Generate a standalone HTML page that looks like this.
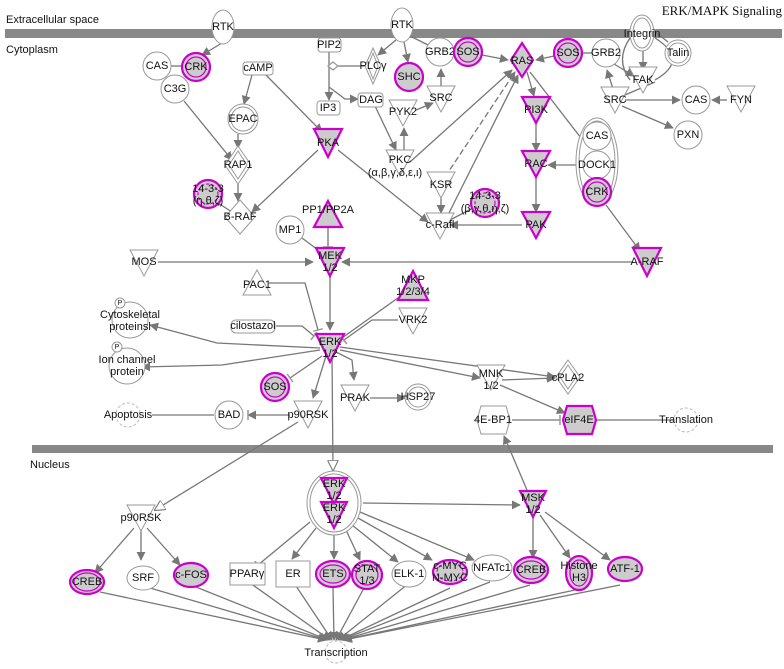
<!DOCTYPE html>
<html><head><meta charset="utf-8"><style>
html,body{margin:0;padding:0;background:#fff;}
svg{display:block;font-family:"Liberation Sans",Arial,sans-serif;font-size:11px;}
text{fill:#111;text-anchor:middle;dominant-baseline:middle;}
.e{stroke:#777;stroke-width:1.3;fill:none;}
.n{fill:#fff;stroke:#999;stroke-width:1;}
.m{fill:#ccc;stroke:#c0c;stroke-width:2.2;}
.mi{fill:none;stroke:#c0c;stroke-width:1.2;}
</style></head><body>
<svg width="784" height="669" viewBox="0 0 784 669">
<defs>
<marker id="a" viewBox="0 0 10 10" refX="9" refY="5" markerWidth="9" markerHeight="9" markerUnits="userSpaceOnUse" orient="auto"><path d="M0,0L10,5L0,10z" fill="#777"/></marker>
<marker id="o" viewBox="0 0 10 10" refX="9" refY="5" markerWidth="11" markerHeight="11" markerUnits="userSpaceOnUse" orient="auto"><path d="M0,0L10,5L0,10z" fill="#fff" stroke="#777"/></marker>
<marker id="t" viewBox="0 0 4 10" refX="2" refY="5" markerWidth="4" markerHeight="10" markerUnits="userSpaceOnUse" orient="auto"><path d="M2,0L2,10" stroke="#999" stroke-width="1.5"/></marker>
</defs>
<!-- membranes -->
<rect x="5" y="29" width="777" height="9" fill="#888"/>
<rect x="32" y="445" width="741" height="8" fill="#888"/>
<text x="6" y="20" style="text-anchor:start">Extracellular space</text>
<text x="6" y="50" style="text-anchor:start">Cytoplasm</text>
<text x="30" y="465" style="text-anchor:start">Nucleus</text>
<text x="782" y="12" style="text-anchor:end;font-family:'Liberation Serif',serif;font-size:13px">ERK/MAPK Signaling</text>

<!-- edges top -->
<g class="e">
<path d="M222,43L202,55" marker-end="url(#a)"/>
<path d="M171,66L182,66"/>
<path d="M184,101L232,160" marker-end="url(#a)"/>
<path d="M252,75L244,104" marker-end="url(#a)"/>
<path d="M266,75L322,132" marker-end="url(#a)"/>
<path d="M238,134L238,148" marker-end="url(#a)"/>
<path d="M238,184L238,201" marker-end="url(#a)"/>
<path d="M218,203L232,212"/>
<path d="M318,150L252,212" marker-end="url(#a)"/>
<path d="M338,150L428,222" marker-end="url(#a)"/>
<path d="M329,52L329,100" marker-end="url(#a)"/>
<path d="M329,87L345,99L358,99" marker-end="url(#a)"/>
<path d="M338,66L366,66"/>
<path d="M333,62L338,66L333,70L328,66z" fill="#fff" stroke="#999"/>
<path d="M396,40L378,55" marker-end="url(#a)"/>
<path d="M375,106L396,150" marker-end="url(#a)"/>
<path d="M404,150L404,128" marker-end="url(#a)"/>
<path d="M416,110L433,103" marker-end="url(#a)"/>
<path d="M441,90L441,69" marker-end="url(#a)"/>
<path d="M404,42L408,62" marker-end="url(#a)"/>
<path d="M410,36L430,46"/>
<path d="M454,52L456,52"/>
<path d="M482,55L508,60" marker-end="url(#a)"/>
<path d="M410,162L512,70" marker-end="url(#a)"/>
<path d="M445,177L515,72" stroke-dasharray="6,3" marker-end="url(#a)"/>
<path d="M448,215L518,75" marker-end="url(#a)"/>
<path d="M527,72L534,96" marker-end="url(#a)"/>
<path d="M530,72L598,160"/>
<path d="M536,124L536,151" marker-end="url(#a)"/>
<path d="M536,176L536,212" marker-end="url(#a)"/>
<path d="M582,165L548,165" marker-end="url(#a)"/>
<path d="M522,225L450,225" marker-end="url(#a)"/>
<path d="M473,208L450,220"/>
<path d="M441,198L441,213" marker-end="url(#a)"/>
<path d="M554,56L536,60" marker-end="url(#a)"/>
<path d="M582,53L592,53"/>
<path d="M614,64L634,76" marker-end="url(#a)"/>
<path d="M643,50L643,70" marker-end="url(#a)"/>
<path d="M630,38Q615,60 630,80M655,38Q690,60 655,80"/>
<path d="M653,30L668,42"/>
<path d="M614,92L607,70" marker-end="url(#a)"/>
<path d="M625,100L680,100" marker-end="url(#a)"/>
<path d="M727,100L712,100" marker-end="url(#a)"/>
<path d="M622,106L673,128" marker-end="url(#a)"/>
<path d="M625,95L655,82"/>
<path d="M606,205L640,251" marker-end="url(#a)"/>
<!-- MEK -->
<path d="M158,262L313,262" marker-end="url(#a)"/>
<path d="M632,262L342,262" marker-end="url(#a)"/>
<path d="M328,220L328,247" marker-end="url(#t)"/>
<path d="M302,238L318,250"/>
<path d="M330,275L330,330" marker-end="url(#a)"/>
<path d="M269,283L305,283L318,330" marker-end="url(#t)"/>
<path d="M276,326L302,326L314,336" marker-end="url(#t)"/>
<path d="M402,295L342,338" marker-end="url(#t)"/>
<path d="M398,320L372,320L344,340" marker-end="url(#t)"/>
<path d="M320,348L217,343L150,325" marker-end="url(#a)"/>
<path d="M320,350L222,365L142,367" marker-end="url(#a)"/>
<path d="M322,356L290,378" marker-end="url(#t)"/>
<path d="M326,356L313,398" marker-end="url(#a)"/>
<path d="M336,352L352,360L354,380" marker-end="url(#a)"/>
<path d="M370,398L405,398" marker-end="url(#a)"/>
<path d="M340,350L480,378" marker-end="url(#a)"/>
<path d="M340,347L555,377" marker-end="url(#a)"/>
<path d="M502,380L555,378" marker-end="url(#a)"/>
<path d="M500,385L565,413" marker-end="url(#a)"/>
<path d="M512,420L560,420" marker-end="url(#t)"/>
<path d="M596,420L675,420"/>
<path d="M290,415L248,415" marker-end="url(#a)"/>
<path d="M254,415L248,415" marker-end="url(#t)"/>
<path d="M214,415L152,415"/>
<path d="M332,356L333,470" marker-end="url(#o)"/>
<path d="M298,422L155,510" marker-end="url(#o)"/>
<path d="M527,490L504,436" marker-end="url(#a)"/>
<path d="M363,503L520,505" marker-end="url(#a)"/>
<!-- nucleus to targets -->
<path d="M134,528L95,573" marker-end="url(#a)"/>
<path d="M141,528L141,560" marker-end="url(#a)"/>
<path d="M147,528L180,565" marker-end="url(#a)"/>
<path d="M310,522L258,565" marker-end="url(#t)"/>
<path d="M316,528L292,559" marker-end="url(#a)"/>
<path d="M334,535L334,559" marker-end="url(#a)"/>
<path d="M346,530L360,560" marker-end="url(#a)"/>
<path d="M352,525L398,562" marker-end="url(#a)"/>
<path d="M358,518L432,560" marker-end="url(#a)"/>
<path d="M360,512L474,560" marker-end="url(#a)"/>
<path d="M533,518L533,558" marker-end="url(#a)"/>
<path d="M540,515L570,558" marker-end="url(#a)"/>
<path d="M545,512L610,560" marker-end="url(#a)"/>
<!-- to transcription -->
<path d="M100,592L326,640" marker-end="url(#a)"/>
<path d="M150,588L327,640" marker-end="url(#a)"/>
<path d="M196,587L328,640" marker-end="url(#a)"/>
<path d="M250,583L330,640" marker-end="url(#a)"/>
<path d="M294,583L332,640" marker-end="url(#a)"/>
<path d="M333,588L334,640" marker-end="url(#a)"/>
<path d="M364,588L336,640" marker-end="url(#a)"/>
<path d="M408,584L338,640" marker-end="url(#a)"/>
<path d="M450,588L340,640" marker-end="url(#a)"/>
<path d="M490,582L341,640" marker-end="url(#a)"/>
<path d="M530,585L342,640" marker-end="url(#a)"/>
<path d="M575,590L343,640" marker-end="url(#a)"/>
<path d="M620,585L344,640" marker-end="url(#a)"/>
</g>

<!-- nodes top -->
<ellipse class="n" cx="223" cy="27" rx="11" ry="17"/><text x="223" y="27">RTK</text>
<ellipse class="n" cx="402" cy="25" rx="11" ry="17"/><text x="402" y="25">RTK</text>
<circle class="n" cx="157" cy="66" r="14"/><text x="157" y="66">CAS</text>
<circle class="m" cx="196" cy="67" r="14"/><circle class="mi" cx="196" cy="67" r="10"/><text x="196" y="67">CRK</text>
<circle class="n" cx="175" cy="89" r="14"/><text x="175" y="89">C3G</text>
<rect class="n" x="243" y="62" width="30" height="13" rx="3"/><text x="258" y="68">cAMP</text>
<circle class="n" cx="243" cy="119" r="15"/><circle class="n" cx="243" cy="119" r="12"/><text x="243" y="119">EPAC</text>
<path class="n" d="M238,146L251,165L238,184L225,165z"/><path class="n" d="M238,151L247,165L238,179L229,165z"/><text x="238" y="165">RAP1</text>
<circle class="m" cx="208" cy="194" r="14"/><circle class="mi" cx="208" cy="194" r="10" stroke-dasharray="3,2"/><text x="208" y="189">14-3-3</text><text x="208" y="201">(η,θ,ζ)</text>
<path class="n" d="M240,200L255,217L240,234L225,217z"/><text x="240" y="217">B-RAF</text>
<path class="m" d="M314,129L342,129L328,157z"/><text x="328" y="143">PKA</text>
<rect class="n" x="318" y="38" width="23" height="14" rx="3"/><text x="329" y="45">PIP2</text>
<path class="n" d="M373,48L381,66L373,84L365,66z"/><path class="n" d="M373,53L378,66L373,79L368,66z"/><text x="373" y="66">PLCγ</text>
<rect class="n" x="317" y="101" width="23" height="14" rx="3"/><text x="328" y="108">IP3</text>
<rect class="n" x="358" y="93" width="25" height="14" rx="3"/><text x="371" y="100">DAG</text>
<path class="m" d="M314,227L342,227L328,201z"/><text x="328" y="210">PP1/PP2A</text>
<circle class="n" cx="290" cy="230" r="14"/><text x="290" y="230">MP1</text>
<circle class="n" cx="440" cy="52" r="14"/><text x="440" y="52">GRB2</text>
<circle class="m" cx="468" cy="52" r="14"/><circle class="mi" cx="468" cy="52" r="10"/><text x="468" y="52">SOS</text>
<circle class="m" cx="409" cy="77" r="14"/><text x="409" y="77">SHC</text>
<path class="n" d="M427,86L455,86L441,112z"/><text x="441" y="98">SRC</text>
<path class="n" d="M389,100L417,100L403,126z"/><text x="403" y="112">PYK2</text>
<path class="n" d="M386,150L414,150L400,176z"/><text x="400" y="160">PKC</text><text x="395" y="173">(α,β,γ,δ,ε,ι)</text>
<path class="m" d="M522,43L533,60L522,77L511,60z"/><text x="522" y="61">RAS</text>
<circle class="m" cx="568" cy="53" r="14"/><circle class="mi" cx="568" cy="53" r="10"/><text x="568" y="53">SOS</text>
<circle class="n" cx="606" cy="53" r="14"/><text x="606" y="53">GRB2</text>
<ellipse class="n" cx="642" cy="33" rx="12" ry="18"/><ellipse class="n" cx="642" cy="33" rx="9" ry="15"/><text x="642" y="34">Integrin</text>
<circle class="n" cx="678" cy="53" r="13"/><circle class="n" cx="678" cy="53" r="10"/><text x="678" y="53">Talin</text>
<path class="n" d="M629,67L657,67L643,93z"/><text x="643" y="80">FAK</text>
<path class="n" d="M601,87L629,87L615,113z"/><text x="615" y="100">SRC</text>
<circle class="n" cx="696" cy="100" r="14"/><text x="696" y="100">CAS</text>
<path class="n" d="M727,86L755,86L741,112z"/><text x="741" y="100">FYN</text>
<circle class="n" cx="688" cy="135" r="14"/><text x="688" y="135">PXN</text>
<path class="m" d="M522,97L550,97L536,123z"/><text x="536" y="110">PI3K</text>
<path class="m" d="M522,151L550,151L536,177z"/><text x="536" y="164">RAC</text>
<path class="m" d="M522,212L550,212L536,238z"/><text x="536" y="225">PAK</text>
<ellipse class="n" cx="597" cy="162" rx="21" ry="44"/><ellipse class="n" cx="597" cy="162" rx="18" ry="41"/>
<circle class="n" cx="597" cy="136" r="14"/><text x="597" y="136">CAS</text>
<circle class="n" cx="597" cy="165" r="14"/><text x="597" y="165">DOCK1</text>
<circle class="m" cx="597" cy="192" r="14"/><circle class="mi" cx="597" cy="192" r="10"/><text x="597" y="192">CRK</text>
<path class="n" d="M427,172L455,172L441,198z"/><text x="441" y="185">KSR</text>
<path class="n" d="M426,213L454,213L440,239z"/><text x="440" y="225">c-Rafl</text>
<circle class="m" cx="485" cy="203" r="14"/><circle class="mi" cx="485" cy="203" r="10" stroke-dasharray="3,2"/><text x="485" y="196">14-3-3</text><text x="485" y="209">(β,γ,θ,η,ζ)</text>

<!-- middle -->
<path class="n" d="M130,250L158,250L144,276z"/><text x="144" y="262">MOS</text>
<path class="m" d="M316,248L344,248L330,276z"/><text x="330" y="256">MEK</text><text x="330" y="268">1/2</text>
<path class="m" d="M633,248L661,248L647,276z"/><text x="647" y="262">A-RAF</text>
<path class="n" d="M243,295L271,295L257,270z"/><text x="257" y="285">PAC1</text>
<path class="m" d="M398,300L428,300L413,271z"/><text x="413" y="280">MKP</text><text x="413" y="292">1/2/3/4</text>
<rect class="n" x="231" y="320" width="44" height="13" rx="5"/><text x="253" y="326">cilostazol</text>
<path class="n" d="M399,308L427,308L413,334z"/><text x="413" y="320">VRK2</text>
<path class="m" d="M316,334L344,334L330,362z"/><text x="330" y="342">ERK</text><text x="330" y="354">1/2</text>
<circle class="n" cx="130" cy="320" r="18"/><circle class="n" cx="120" cy="303" r="5"/><text x="120" y="303" style="font-size:7px">P</text><text x="130" y="315">Cytoskeletal</text><text x="130" y="327">proteinsl</text>
<circle class="n" cx="127" cy="366" r="18"/><circle class="n" cx="117" cy="347" r="5"/><text x="117" y="347" style="font-size:7px">P</text><text x="127" y="360">Ion channel</text><text x="127" y="372">protein</text>
<circle class="m" cx="275" cy="387" r="14"/><circle class="mi" cx="275" cy="387" r="10"/><text x="275" y="387">SOS</text>
<path class="n" d="M294,401L322,401L308,428z"/><text x="308" y="415">p90RSK</text>
<path class="n" d="M341,385L369,385L355,411z"/><text x="355" y="398">PRAK</text>
<circle class="n" cx="418" cy="397" r="13"/><circle class="n" cx="418" cy="397" r="10"/><text x="418" y="397">HSP27</text>
<path class="n" d="M477,365L505,365L491,390z"/><text x="491" y="374">MNK</text><text x="491" y="386">1/2</text>
<path class="n" d="M568,360L580,377L568,394L556,377z"/><path class="n" d="M568,365L576,377L568,389L560,377z"/><text x="568" y="378">cPLA2</text>
<path class="n" d="M481,406L506,406L510,420L506,434L481,434L477,420z"/><text x="493" y="420">4E-BP1</text>
<path class="m" d="M567,406L592,406L596,420L592,434L567,434L563,420z"/><text x="579" y="420">eIF4E</text>
<circle class="n" cx="229" cy="415" r="14"/><text x="229" y="415">BAD</text>
<circle cx="128" cy="415" r="12" fill="#fff" stroke="#bbb" stroke-dasharray="3,2"/><text x="128" y="415">Apoptosis</text>
<circle cx="686" cy="420" r="12" fill="#fff" stroke="#bbb" stroke-dasharray="3,2"/><text x="686" y="420">Translation</text>

<!-- nucleus -->
<ellipse class="n" cx="334" cy="503" rx="27" ry="32"/><ellipse class="n" cx="334" cy="503" rx="24" ry="29"/>
<path class="m" d="M321,478L347,478L334,504z"/><text x="334" y="484">ERK</text><text x="334" y="496">1/2</text>
<path class="m" d="M321,502L347,502L334,528z"/><text x="334" y="508">ERK</text><text x="334" y="520">1/2</text>
<path class="m" d="M520,491L546,491L533,517z"/><text x="533" y="498">MSK</text><text x="533" y="510">1/2</text>
<path class="n" d="M127,505L155,505L141,531z"/><text x="141" y="518">p90RSK</text>
<ellipse class="m" cx="87" cy="582" rx="17" ry="12"/><ellipse class="mi" cx="87" cy="582" rx="13" ry="9"/><text x="87" y="582">CREB</text>
<ellipse class="n" cx="143" cy="578" rx="16" ry="12"/><text x="143" y="578">SRF</text>
<ellipse class="m" cx="191" cy="575" rx="17" ry="12"/><text x="191" y="575">c-FOS</text>
<rect class="n" x="230" y="563" width="35" height="22"/><text x="247" y="574">PPARγ</text>
<rect class="n" x="276" y="561" width="34" height="26"/><text x="293" y="574">ER</text>
<ellipse class="m" cx="333" cy="574" rx="17" ry="13"/><ellipse class="mi" cx="333" cy="574" rx="13" ry="9"/><text x="333" y="574">ETS</text>
<ellipse class="m" cx="367" cy="575" rx="15" ry="14"/><ellipse class="mi" cx="367" cy="575" rx="11" ry="10"/><text x="367" y="569">STAT</text><text x="367" y="581">1/3</text>
<ellipse class="n" cx="409" cy="574" rx="17" ry="13"/><text x="409" y="574">ELK-1</text>
<ellipse class="m" cx="450" cy="572" rx="17" ry="12"/><ellipse class="mi" cx="450" cy="572" rx="13" ry="9" stroke-dasharray="3,2"/><text x="450" y="566">c-MYC</text><text x="450" y="578">N-MYC</text>
<ellipse class="n" cx="492" cy="568" rx="20" ry="13"/><text x="492" y="568">NFATc1</text>
<ellipse class="m" cx="531" cy="570" rx="17" ry="13"/><ellipse class="mi" cx="531" cy="570" rx="13" ry="9"/><text x="531" y="570">CREB</text>
<ellipse class="m" cx="579" cy="573" rx="13" ry="17"/><ellipse class="mi" cx="579" cy="573" rx="9" ry="13"/><text x="579" y="566">Histone</text><text x="579" y="578">H3</text>
<ellipse class="m" cx="625" cy="569" rx="17" ry="12"/><text x="625" y="569">ATF-1</text>
<circle cx="336" cy="652" r="11" fill="#fff" stroke="#bbb" stroke-dasharray="3,2"/><text x="336" y="653">Transcription</text>
</svg>
</body></html>
